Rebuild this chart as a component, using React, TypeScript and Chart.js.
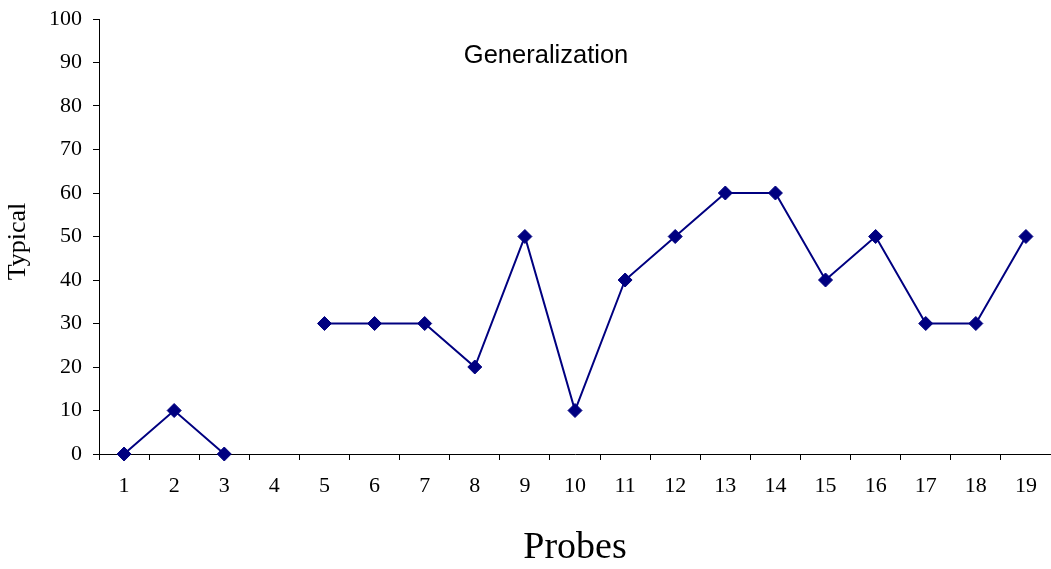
import React, { useEffect, useRef } from "react";
import { Chart, registerables } from "chart.js";

Chart.register(...registerables);

const categories = ["1", "2", "3", "4", "5", "6", "7", "8", "9", "10", "11", "12", "13", "14", "15", "16", "17", "18", "19"];
const typicalValues: (number | null)[] = [0, 10, 0, null, 30, 30, 30, 20, 50, 10, 40, 50, 60, 60, 40, 50, 30, 30, 50];
const seriesName = "Typical";
const chartTitle = "Generalization";
const xTitle = "Probes";
const yMin = 0;
const yMax = 100;
const yStep = 10;

const NAVY = "#000080";
const SERIF = '"Liberation Serif", "Times New Roman", serif';
const SANS = '"Liberation Sans", Arial, sans-serif';

const innerTitle = {
  id: "innerTitle",
  afterDraw(chart: any) {
    const { ctx, chartArea } = chart;
    ctx.save();
    ctx.font = `25.5px ${SANS}`;
    ctx.fillStyle = "#000";
    ctx.textAlign = "center";
    ctx.textBaseline = "middle";
    const x = chartArea.left + (chartArea.right - chartArea.left) * 0.4696;
    ctx.fillText(chartTitle, x, chartArea.top + 37);
    ctx.restore();

    // y-axis title
    ctx.save();
    ctx.font = `26px ${SERIF}`;
    ctx.fillStyle = "#000";
    ctx.textAlign = "center";
    ctx.textBaseline = "middle";
    ctx.translate(18, (chartArea.top + chartArea.bottom) / 2 + 5);
    ctx.rotate(-Math.PI / 2);
    ctx.fillText(seriesName, 0, 0);
    ctx.restore();
  },
};

export default function App() {
  const ref = useRef<HTMLCanvasElement | null>(null);

  useEffect(() => {
    document.body.style.margin = "0";
    const canvas = ref.current;
    if (!canvas) return;
    const chart = new Chart(canvas, {
      type: "line",
      data: {
        labels: categories,
        datasets: [
          {
            label: seriesName,
            data: typicalValues,
            borderColor: NAVY,
            backgroundColor: NAVY,
            borderWidth: 2,
            pointStyle: "rectRot",
            pointRadius: 7,
            pointHoverRadius: 7,
            pointBorderWidth: 1,
            pointBackgroundColor: NAVY,
            pointBorderColor: NAVY,
            spanGaps: false,
            tension: 0,
            clip: false,
          },
        ],
      },
      options: {
        responsive: false,
        animation: false,
        layout: { autoPadding: false, padding: { top: 19, right: -1, left: 0, bottom: 0 } },
        plugins: {
          legend: { display: false },
          tooltip: { enabled: false },
          title: { display: false },
        },
        scales: {
          x: {
            type: "category",
            offset: true,
            grid: {
              offset: true,
              drawOnChartArea: false,
              drawTicks: true,
              tickLength: 6,
              color: "#000",
              lineWidth: 1,
            },
            border: { display: true, color: "#000", width: 1 },
            ticks: {
              color: "#000",
              font: { family: SERIF, size: 22 },
              padding: 13,
              maxRotation: 0,
              autoSkip: false,
            },
            title: {
              display: true,
              text: xTitle,
              color: "#000",
              font: { family: SERIF, size: 38 },
              padding: { top: 0, bottom: -2 },
            },
            afterFit(scale: any) {
              scale.height = 115;
              scale.paddingLeft = 0;
              scale.paddingRight = 0;
            },
          },
          y: {
            min: yMin,
            max: yMax,
            grid: {
              drawOnChartArea: false,
              drawTicks: true,
              tickLength: 6,
              color: "#000",
              lineWidth: 1,
            },
            border: { display: true, color: "#000", width: 1 },
            ticks: {
              stepSize: yStep,
              color: "#000",
              font: { family: SERIF, size: 22 },
              padding: 11,
            },
            title: { display: false },
            afterFit(scale: any) {
              scale.width = 99;
              scale.paddingTop = 0;
              scale.paddingBottom = 0;
            },
          },
        },
      },
      plugins: [innerTitle],
    });
    return () => chart.destroy();
  }, []);

  return (
    <div style={{ width: 1051, height: 569, background: "#fff" }}>
      <canvas ref={ref} width={1051} height={569} style={{ width: 1051, height: 569, display: "block" }} />
    </div>
  );
}
